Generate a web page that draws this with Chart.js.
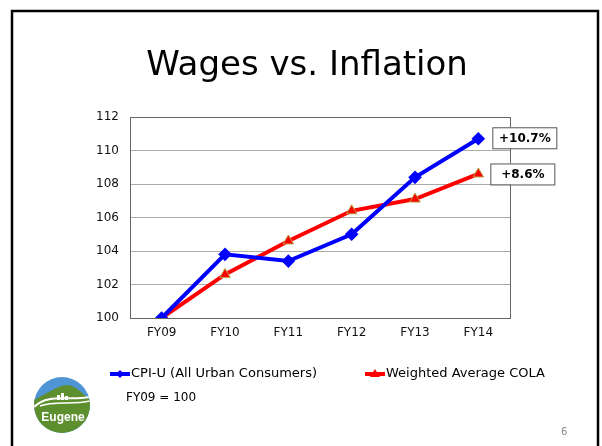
<!DOCTYPE html>
<html>
<head>
<meta charset="utf-8">
<script src="https://cdn.jsdelivr.net/npm/chart.js@4/dist/chart.umd.min.js"></script>
<style>
  html, body { margin: 0; padding: 0; background: #fff; }
  #wrap { width: 602px; height: 446px; position: relative; }
</style>
</head>
<body>
<div id="wrap"><canvas id="myChart" width="602" height="446"></canvas></div>
<script>
const ctx = document.getElementById("myChart").getContext("2d");

const labels = ["FY09", "FY10", "FY11", "FY12", "FY13", "FY14"];
const cpiValues = [100, 103.8, 103.4, 105.0, 108.4, 110.7];
const colaValues = [100, 102.6, 104.6, 106.4, 107.1, 108.6];
const endLabels = ["+10.7%", "+8.6%"];
const seriesNames = ["CPI-U (All Urban Consumers)", "Weighted Average COLA"];

const FONT = "'DejaVu Sans', sans-serif";

// slide frame, title, legend, note, logo, page number
const slidePlugin = {
  id: "slide",
  beforeDraw(chart) {
    const c = chart.ctx;
    c.save();
    c.fillStyle = "#fff";
    c.fillRect(0, 0, chart.width, chart.height);
    c.strokeStyle = "#000";
    c.lineWidth = 2.5;
    c.strokeRect(12, 11, 586, 460);
    // title
    c.fillStyle = "#000";
    c.font = "34px " + FONT;
    c.textAlign = "center";
    c.textBaseline = "alphabetic";
    c.fillText("Wages vs. Inflation", 307, 75);
    c.restore();
  },
  afterDraw(chart) {
    const c = chart.ctx;
    c.save();
    // legend
    const items = [
      { x: 110, ds: 0, marker: "diamond" },
      { x: 365, ds: 1, marker: "triangle" },
    ];
    const ly = 374;
    items.forEach((it) => {
      const ds = chart.data.datasets[it.ds];
      c.strokeStyle = ds.borderColor;
      c.lineWidth = 4;
      c.beginPath();
      c.moveTo(it.x, ly);
      c.lineTo(it.x + 20, ly);
      c.stroke();
      c.fillStyle = ds.pointBackgroundColor;
      c.beginPath();
      if (it.marker === "diamond") {
        c.moveTo(it.x + 10, ly - 4);
        c.lineTo(it.x + 14, ly);
        c.lineTo(it.x + 10, ly + 4);
        c.lineTo(it.x + 6, ly);
      } else {
        c.moveTo(it.x + 10, ly - 5);
        c.lineTo(it.x + 15, ly + 3);
        c.lineTo(it.x + 5, ly + 3);
      }
      c.closePath();
      c.fill();
      c.fillStyle = "#000";
      c.font = "13px " + FONT;
      c.textAlign = "left";
      c.textBaseline = "middle";
      c.fillText(ds.label, it.x + 21, ly);
    });
    c.font = "12px " + FONT;
    c.fillText("FY09 = 100", 126, 398);
    // page number
    c.fillStyle = "#888";
    c.font = "10px " + FONT;
    c.fillText("6", 561, 432);

    // logo
    const cx = 62, cy = 405, r = 28;
    c.beginPath();
    c.arc(cx, cy, r, 0, Math.PI * 2);
    c.save();
    c.clip();
    c.fillStyle = "#4f94d4";
    c.fillRect(cx - r, cy - r, 2 * r, 2 * r);
    c.fillStyle = "#5e8f2f";
    c.beginPath();
    c.moveTo(cx - r, cy - 5);
    c.bezierCurveTo(cx - 14, cy - 12, cx - 4, cy - 20, cx + 6, cy - 20);
    c.bezierCurveTo(cx + 16, cy - 18, cx + 22, cy - 10, cx + r, cy - 5);
    c.lineTo(cx + r, cy + r);
    c.lineTo(cx - r, cy + r);
    c.closePath();
    c.fill();
    c.strokeStyle = "#fff";
    c.lineWidth = 2;
    c.beginPath();
    c.moveTo(cx - r, cy + 2);
    c.bezierCurveTo(cx - 14, cy - 12, cx + 6, cy - 4, cx + r, cy - 8);
    c.stroke();
    c.lineWidth = 1.5;
    c.beginPath();
    c.moveTo(cx - r + 6, cy + 1);
    c.bezierCurveTo(cx - 8, cy - 4, cx + 12, cy + 0, cx + r, cy - 4);
    c.stroke();
    c.fillStyle = "#fff";
    c.fillRect(cx - 5, cy - 10, 3, 5);
    c.fillRect(cx - 1, cy - 12, 3, 7);
    c.fillRect(cx + 3, cy - 9, 3, 4);
    c.font = "bold 12px 'Liberation Sans', sans-serif";
    c.textAlign = "center";
    c.textBaseline = "middle";
    c.fillText("Eugene", cx + 1, cy + 13);
    c.restore();
    c.restore();
  },
};

// plot frame and end-of-series boxes
const framePlugin = {
  id: "frame",
  afterDatasetsDraw(chart) {
    const c = chart.ctx;
    const a = chart.chartArea;
    c.save();
    c.strokeStyle = "#666";
    c.lineWidth = 1;
    c.strokeRect(a.left + 0.5, a.top + 0.5, a.right - a.left, a.bottom - a.top);
    chart.data.datasets.forEach((ds, i) => {
      const pts = chart.getDatasetMeta(i).data;
      const p = pts[pts.length - 1];
      const w = 64, h = 21;
      const bx = p.x + (i === 0 ? 14 : 12), by = p.y - h / 2 - (i === 0 ? 1 : 0);
      c.fillStyle = "#fff";
      c.fillRect(bx, by, w, h);
      c.strokeStyle = "#555";
      c.strokeRect(bx + 0.5, by + 0.5, w, h);
      c.fillStyle = "#000";
      c.font = "bold 12px " + FONT;
      c.textAlign = "center";
      c.textBaseline = "middle";
      c.fillText(endLabels[i], bx + w / 2 + 0.5, by + h / 2 + 1);
    });
    c.restore();
  },
};

const data = {
  labels,
  datasets: [
    {
      label: seriesNames[0],
      data: cpiValues,
      borderColor: "#0000ff",
      backgroundColor: "#0000ff",
      pointBackgroundColor: "#0000ff",
      pointBorderColor: "#0000ff",
      pointStyle: "rectRot",
      pointRadius: 4,
      borderWidth: 4,
      tension: 0,
    },
    {
      label: seriesNames[1],
      data: colaValues,
      borderColor: "#ff0000",
      backgroundColor: "#ff0000",
      pointBackgroundColor: "#ff0000",
      pointBorderColor: "#b8a040",
      pointBorderWidth: 1,
      pointStyle: "triangle",
      pointRadius: 6,
      borderWidth: 4,
      tension: 0,
    },
  ],
};

const config = {
  type: "line",
  data: data,
  options: {
    responsive: false,
    animation: false,
    events: [],
    layout: { padding: { left: 0, top: 117, right: 92, bottom: 0 } },
    plugins: {
      legend: { display: false },
      tooltip: { enabled: false },
    },
    scales: {
      x: {
        offset: true,
        grid: { display: false, drawTicks: false },
        border: { color: "#666", width: 1 },
        ticks: { color: "#111", font: { family: FONT, size: 12 }, padding: 8, maxRotation: 0 },
        afterFit(scale) { scale.height = 128; },
      },
      y: {
        min: 100,
        max: 112,
        ticks: { stepSize: 2, color: "#111", font: { family: FONT, size: 12 }, padding: 11 },
        grid: { color: "#aaa", lineWidth: 1, drawTicks: false },
        border: { color: "#666", width: 1 },
        afterFit(scale) { scale.width = 130; },
      },
    },
  },
  plugins: [slidePlugin, framePlugin],
};

const myChart = new Chart(ctx, config);
</script>
</body>
</html>
